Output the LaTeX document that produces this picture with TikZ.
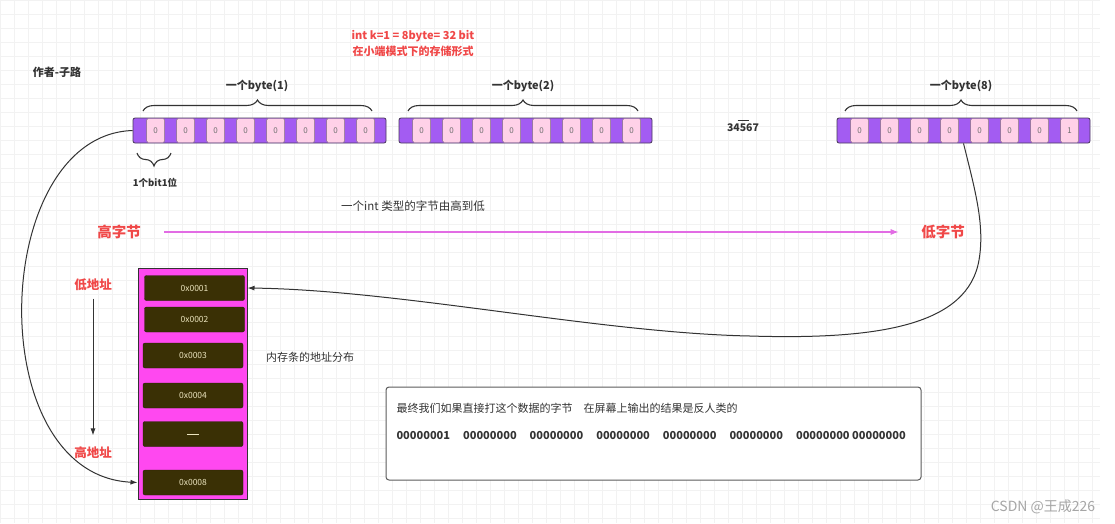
\documentclass[tikz,border=0pt]{standalone}
\usepackage{fontspec}
\setmainfont{Noto Sans CJK SC}
\usepackage{tikz}
\usetikzlibrary{arrows.meta,positioning,calc,decorations.pathreplacing}
\definecolor{bitpurple}{RGB}{163,92,242}
\definecolor{bitpink}{RGB}{255,209,232}
\definecolor{memmagenta}{RGB}{255,72,240}
\definecolor{memdark}{RGB}{58,48,5}
\definecolor{memtext}{RGB}{235,228,190}
\definecolor{hotred}{RGB}{240,72,72}
\definecolor{arrowpink}{RGB}{226,108,228}
\definecolor{gridgray}{RGB}{242,242,242}
\definecolor{darktext}{RGB}{51,51,51}
\newcommand{\setfs}[1]{\fontsize{#1}{#1}\selectfont}
\tikzset{strip/.style={draw=darktext!80!bitpurple, fill=bitpurple, rounded corners=2pt, line width=0.8pt, minimum width=253pt, minimum height=25pt, inner sep=0pt}, bitcell/.style={draw=darktext!60!bitpink, fill=bitpink, rounded corners=1.5pt, minimum width=18pt, minimum height=24pt, inner sep=0pt, font=\setfs{8}, text=darktext!70}, membox/.style={draw=darktext, fill=memmagenta, line width=1pt, minimum width=109pt, minimum height=231pt, inner sep=0pt}, memcell/.style={draw=memdark!60!black, fill=memdark, rounded corners=2pt, minimum width=100pt, minimum height=25pt, inner sep=0pt, font=\setfs{8.5}, text=memtext}, bracedeco/.style={decorate, decoration={brace, amplitude=11pt}, draw=darktext, line width=1.1pt}, bytelbl/.style={font=\setfs{11}\bfseries, text=darktext}, redlbl/.style={font=\setfs{14.5}\bfseries, text=hotred}, addrlbl/.style={font=\setfs{12.5}\bfseries, text=hotred}, gridline/.style={draw=gridgray, line width=0.5pt}, blackarrow/.style={->, draw=darktext, line width=1pt}, pinkarrow/.style={-{Latex[length=8pt,width=6pt]}, draw=arrowpink, line width=1.2pt}, outbox/.style={draw=darktext!80, rounded corners=3pt, line width=1pt, fill=white, minimum width=535pt, minimum height=93pt}}

\begin{document}
\begin{tikzpicture}[x=1pt, y=-1pt, >={Latex[length=7pt,width=5pt]}]
\useasboundingbox (0,0) rectangle (1115,523);
\fill[white] (0,0) rectangle (1115,523);
\foreach \gx in {0,14,...,1100} \draw[gridline] (\gx,0) -- (\gx,523);
\foreach \gy in {0,14,...,518} \draw[gridline] (0,\gy) -- (1100,\gy);

% title and author
\node[font=\fontsize{11}{16}\selectfont\bfseries, text=hotred, align=center] (title) at (413,43) {int k=1 = 8byte= 32 bit\\在小端模式下的存储形式};
\node[bytelbl] (author) at (57,72) {作者-子路};

% byte strips
\node[strip] (s1) at (259.5,130.5) {};
\node[strip] (s2) at (525.5,130.5) {};
\node[strip] (s3) at (963.5,130.5) {};
\foreach \s/\last in {s1/0,s2/0,s3/1}
  \foreach \i in {1,...,8}
    \node[bitcell] (\s c\i) at ($(\s.west)+({-7+30*\i},0)$) {\ifnum\i=8 \last\else 0\fi};

% braces
\draw[bracedeco] (143,111) -- (372,111);
\node[bytelbl] (byte1) at (257,86) {一个byte(1)};
\draw[bracedeco] (408,111) -- (638,111);
\node[bytelbl] (byte2) at (523,86) {一个byte(2)};
\draw[bracedeco] (845,111) -- (1077,111);
\node[bytelbl] (byte8) at (961,86) {一个byte(8)};
\draw[bracedeco, decoration={brace, amplitude=13pt}] (171,153) -- (137,153);
\node[font=\setfs{9.5}\bfseries, text=darktext] (onebit) at (155,183) {1个bit1位};
\node[font=\setfs{10.5}\bfseries, text=darktext] (more) at (743,126) {\shortstack{\rule{11pt}{0.6pt}\\34567}};

% high to low
\node[font=\setfs{11.5}, text=darktext] (order) at (413,206) {一个int 类型的字节由高到低};
\node[redlbl] (hi) at (119,232) {高字节};
\node[redlbl] (lo) at (943,232) {低字节};
\draw[pinkarrow] ([xshift=20pt]hi.east) -- ([xshift=-19pt]lo.west);

% memory
\node[membox] (mem) at (192.5,383.5) {};
\node[memcell] (m1) at (194.5,288) {0x0001};
\node[memcell] (m2) at (194.5,319.5) {0x0002};
\node[memcell] (m3) at (193,355.5) {0x0003};
\node[memcell] (m4) at (193,395.5) {0x0004};
\node[memcell] (m5) at (193,434) {\rule{12pt}{0.8pt}};
\node[memcell] (m6) at (193,482.5) {0x0008};
\node[addrlbl] (lowaddr) at (93,285) {低地址};
\node[addrlbl] (highaddr) at (93,453) {高地址};
\draw[blackarrow, shorten <=4pt, shorten >=8pt] (lowaddr) -- (highaddr);
\node[font=\setfs{11}, text=darktext] (memnote) at (310,357) {内存条的地址分布};

% output
\node[outbox] (out) at (653.5,433.5) {};
\node[font=\setfs{11}, text=darktext, anchor=west] (msg) at (393,408) {最终我们如果直接打这个数据的字节\quad 在屏幕上输出的结果是反人类的};
\node[font=\setfs{11}\bfseries, text=darktext, anchor=west] (bits) at (393,435) {00000001\hspace{13pt}00000000\hspace{13pt}00000000\hspace{13pt}00000000\hspace{13pt}00000000\hspace{13pt}00000000\hspace{13pt}00000000 00000000};

% connectors
\coordinate (in1) at (mem.east |- m1);
\coordinate (in8) at (mem.west |- m6);
\draw[blackarrow] (s1.west) .. controls (-10,135) and (-20,475) .. (in8);
\draw[blackarrow] (s3.south) .. controls (975,190) and (985,225) .. (979,260) .. controls (968,325) and (880,340) .. (750,336) .. controls (600,333) and (400,290) .. (in1);

\node[font=\setfs{14}, text=gray!70] (mark) at (1043,507) {CSDN @王成226};
\end{tikzpicture}
\end{document}
